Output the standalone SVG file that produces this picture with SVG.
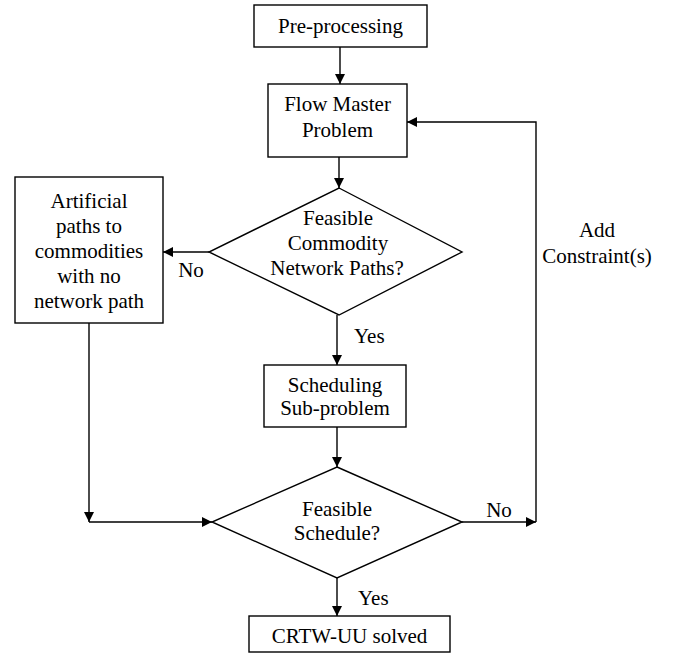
<svg xmlns="http://www.w3.org/2000/svg" width="676" height="655" viewBox="0 0 676 655">
<style>
.box{fill:#fff;stroke:#000;stroke-width:1.4}
.ln{fill:none;stroke:#000;stroke-width:1.4}
text{font-family:'Liberation Serif',Tinos,'Times New Roman',Times,'DejaVu Serif',serif;font-size:21px;fill:#000}
.c{text-anchor:middle}
</style>
<defs>
<marker id="ah" viewBox="0 0 10 10" refX="10" refY="5" markerWidth="10" markerHeight="10" markerUnits="userSpaceOnUse" orient="auto">
<path d="M0,0 L10,5 L0,10 Z" fill="#000"/>
</marker>
</defs>
<rect width="676" height="655" fill="#fff"/>
<g id="connectors">
<path class="ln" d="M340,47 V84" marker-end="url(#ah)"/>
<path class="ln" d="M339,157 V188" marker-end="url(#ah)"/>
<path class="ln" d="M209,252 H163" marker-end="url(#ah)"/>
<path class="ln" d="M337,315 V365" marker-end="url(#ah)"/>
<path class="ln" d="M337,427 V467" marker-end="url(#ah)"/>
<path class="ln" d="M89,323 V522" marker-end="url(#ah)"/>
<path class="ln" d="M89,522 H212" marker-end="url(#ah)"/>
<path class="ln" d="M462,522 H536" marker-end="url(#ah)"/>
<path class="ln" d="M536,522 V122 H407" marker-end="url(#ah)"/>
<path class="ln" d="M337,578 V616" marker-end="url(#ah)"/>
<text x="191" y="277" class="c">No</text>
<text x="354" y="343">Yes</text>
<text x="499" y="517" class="c">No</text>
<text x="358" y="605">Yes</text>
<text x="597" y="237" class="c">Add</text>
<text x="597" y="263" class="c">Constraint(s)</text>
</g>
<g id="preprocessing">
<rect class="box" x="254" y="5" width="173" height="42"/>
<text x="340.5" y="33" class="c">Pre-processing</text>
</g>
<g id="flowmaster">
<rect class="box" x="268" y="84" width="139" height="73"/>
<text x="337.5" y="111" class="c">Flow Master</text>
<text x="337.5" y="137" class="c">Problem</text>
</g>
<g id="feasiblepaths">
<polygon class="box" points="339,188 462,252 339,315 209,252"/>
<text x="338" y="225" class="c">Feasible</text>
<text x="338" y="250" class="c">Commodity</text>
<text x="337" y="275" class="c">Network Paths?</text>
</g>
<g id="artificial">
<rect class="box" x="15" y="177" width="148" height="146"/>
<text x="89" y="208" class="c">Artificial</text>
<text x="89" y="233" class="c">paths to</text>
<text x="89" y="258" class="c">commodities</text>
<text x="89" y="283" class="c">with no</text>
<text x="89" y="308" class="c">network path</text>
</g>
<g id="scheduling">
<rect class="box" x="264" y="365" width="142" height="62"/>
<text x="335" y="392" class="c">Scheduling</text>
<text x="335" y="415" class="c">Sub-problem</text>
</g>
<g id="feasibleschedule">
<polygon class="box" points="337,467 462,522 337,578 212,522"/>
<text x="337" y="516" class="c">Feasible</text>
<text x="337" y="540" class="c">Schedule?</text>
</g>
<g id="solved">
<rect class="box" x="249" y="616" width="201" height="36"/>
<text x="349.5" y="643" class="c">CRTW-UU solved</text>
</g>
</svg>
